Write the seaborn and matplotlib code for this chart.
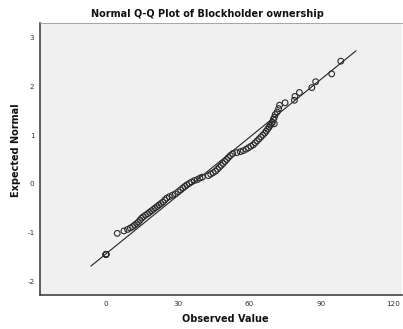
import matplotlib
matplotlib.use("Agg")
import matplotlib.pyplot as plt
import seaborn as sns
import pandas as pd

observed = [0, 0, 0, 0, 0,
            4.7, 7.5, 9.0, 10.2, 11.2, 12.0, 12.8, 13.5, 14.2, 14.9,
            15.6, 16.5, 17.4, 18.2, 19.0, 19.8, 20.6, 21.4, 22.2, 23.0,
            23.8, 24.6, 25.4, 26.5, 27.8, 29.0, 30.2, 31.2, 32.2, 33.0,
            33.8, 34.8, 35.8, 37.0, 38.2, 39.3, 40.3,
            42.8, 43.8, 44.8, 45.8, 46.6, 47.4, 48.2, 49.0, 49.8, 50.5,
            51.2, 52.0, 53.0, 54.7,
            56.2, 57.4, 58.6, 59.6, 60.6, 61.6, 62.4, 63.2, 64.0, 64.8,
            65.6, 66.4, 67.0, 67.6, 68.2, 68.7, 69.2, 69.6, 70.4, 70.0,
            70.4, 70.8, 71.6, 72.2, 72.6, 74.9, 78.8, 79.0, 80.9, 86.1,
            87.7, 94.4, 98.2]
expected = [-1.44, -1.44, -1.44, -1.44, -1.44,
            -1.01, -0.96, -0.93, -0.90, -0.87, -0.84, -0.81, -0.78, -0.74, -0.70,
            -0.67, -0.64, -0.61, -0.58, -0.55, -0.52, -0.49, -0.46, -0.43, -0.40,
            -0.37, -0.33, -0.29, -0.26, -0.23, -0.20, -0.16, -0.12, -0.08, -0.05,
            -0.02, 0.01, 0.04, 0.07, 0.09, 0.12, 0.14,
            0.17, 0.20, 0.23, 0.26, 0.30, 0.34, 0.38, 0.42, 0.46, 0.50,
            0.54, 0.58, 0.62, 0.64,
            0.66, 0.68, 0.71, 0.74, 0.77, 0.80, 0.84, 0.88, 0.92, 0.96,
            1.00, 1.04, 1.08, 1.12, 1.16, 1.20, 1.23, 1.26, 1.23, 1.32,
            1.36, 1.42, 1.47, 1.54, 1.61, 1.66, 1.71, 1.79, 1.87, 1.97,
            2.09, 2.25, 2.51]

# Reference line (normal with fitted mean / sd), endpoints of the drawn line
line_x = [-6.3, 104.6]
line_mean = 36.0
line_sd = 25.2

x_ticks = [0, 30, 60, 90, 120]
y_ticks = [-2, -1, 0, 1, 2, 3]

df = pd.DataFrame({"Observed": observed, "Expected": expected})
line_df = pd.DataFrame({"x": line_x,
                        "y": [(v - line_mean) / line_sd for v in line_x]})

sns.set_style("white")
plt.rcParams["font.family"] = ["DejaVu Sans"]

fig = plt.figure(figsize=(4.03, 3.29), dpi=100)
ax = fig.add_axes([40 / 403, 1 - 295 / 329, (401.5 - 40) / 403, (295 - 23) / 329])
ax.set_facecolor("#f0f0f0")

sns.lineplot(data=line_df, x="x", y="y", ax=ax, color="#222222", lw=0.8,
             zorder=2)
sns.scatterplot(data=df, x="Observed", y="Expected", ax=ax, s=17,
                facecolor="none", edgecolor="#2a2a2a", linewidth=0.8,
                zorder=3)

ax.set_xlim(-27.6, 123.6)
ax.set_ylim(-2.27, 3.29)
ax.set_xticks(x_ticks)
ax.set_yticks(y_ticks)
ax.set_xticklabels([str(t) for t in x_ticks])
ax.set_yticklabels([str(t) for t in y_ticks])
ax.tick_params(axis="both", direction="out", length=2.5, width=0.6,
               colors="#333333", labelsize=5.2, pad=1.5)
ax.set_xlabel("")
ax.set_ylabel("")

for side in ["left", "bottom"]:
    ax.spines[side].set_color("#444444")
    ax.spines[side].set_linewidth(1.2)
ax.spines["top"].set_color("#999999")
ax.spines["top"].set_linewidth(0.6)
ax.spines["right"].set_visible(False)

fig.text(207 / 403, 1 - 14 / 329, "Normal Q-Q Plot of Blockholder ownership",
         ha="center", va="center", fontsize=7, fontweight="bold",
         color="#111111")
fig.text(225 / 403, 1 - 319 / 329, "Observed Value", ha="center",
         va="center", fontsize=7, fontweight="bold", color="#111111")
fig.text(16 / 403, 1 - 150 / 329, "Expected Normal", ha="center",
         va="center", rotation=90, fontsize=7, fontweight="bold",
         color="#111111")

fig.savefig("out.png", dpi=100, facecolor="white")
